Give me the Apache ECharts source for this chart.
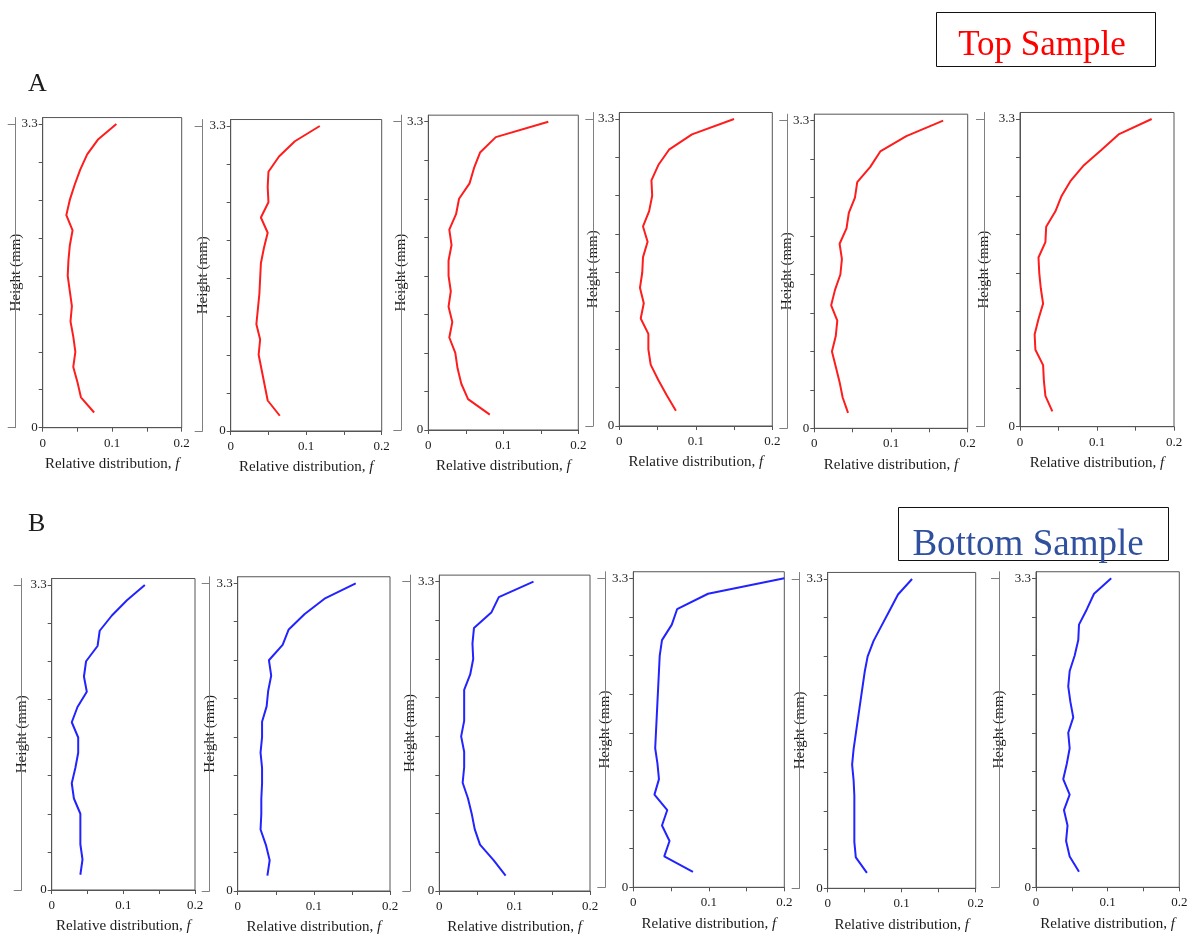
<!DOCTYPE html>
<html>
<head>
<meta charset="utf-8">
<script src="https://cdn.jsdelivr.net/npm/echarts@6/dist/echarts.min.js"></script>
<style>
  html, body { margin: 0; padding: 0; background: #fff; }
  #chart { width: 1192px; height: 936px; }
</style>
</head>
<body>
<div id="chart"></div>
<script>
// Layer heights (mm), bottom to top
const heights = [0.165, 0.33, 0.495, 0.66, 0.825, 0.99, 1.155, 1.32, 1.485, 1.65,
                 1.815, 1.98, 2.145, 2.31, 2.475, 2.64, 2.805, 2.97, 3.135, 3.3];

// Relative distribution f per layer, top sample (A)
const topA1 = [0.074, 0.055, 0.050, 0.044, 0.047, 0.044, 0.040, 0.042, 0.039, 0.036,
               0.037, 0.039, 0.043, 0.034, 0.039, 0.046, 0.054, 0.064, 0.080, 0.106];
const topA2 = [0.065, 0.049, 0.045, 0.041, 0.037, 0.039, 0.034, 0.036, 0.038, 0.039,
               0.040, 0.044, 0.049, 0.040, 0.050, 0.049, 0.050, 0.064, 0.085, 0.118];
const topA3 = [0.082, 0.053, 0.044, 0.039, 0.036, 0.028, 0.032, 0.027, 0.030, 0.027,
               0.027, 0.031, 0.028, 0.037, 0.041, 0.055, 0.061, 0.069, 0.090, 0.160];
const topA4 = [0.074, 0.062, 0.051, 0.041, 0.038, 0.038, 0.028, 0.032, 0.027, 0.030,
               0.031, 0.037, 0.031, 0.039, 0.043, 0.042, 0.051, 0.065, 0.095, 0.150];
const topA5 = [0.044, 0.037, 0.033, 0.028, 0.023, 0.028, 0.030, 0.022, 0.027, 0.034,
               0.036, 0.033, 0.042, 0.045, 0.053, 0.056, 0.073, 0.086, 0.120, 0.168];
const topA6 = [0.042, 0.033, 0.031, 0.030, 0.020, 0.019, 0.024, 0.030, 0.027, 0.025,
               0.024, 0.033, 0.034, 0.046, 0.054, 0.066, 0.083, 0.106, 0.128, 0.171];

// Relative distribution f per layer, bottom sample (B)
const botB1 = [0.040, 0.043, 0.040, 0.040, 0.040, 0.031, 0.028, 0.033, 0.037, 0.037,
               0.028, 0.036, 0.049, 0.045, 0.048, 0.064, 0.067, 0.084, 0.105, 0.130];
const botB2 = [0.039, 0.042, 0.037, 0.030, 0.031, 0.031, 0.032, 0.032, 0.030, 0.032,
               0.032, 0.038, 0.040, 0.044, 0.041, 0.059, 0.067, 0.088, 0.114, 0.155];
const botB3 = [0.088, 0.072, 0.054, 0.047, 0.043, 0.038, 0.031, 0.033, 0.033, 0.029,
               0.033, 0.033, 0.033, 0.041, 0.045, 0.044, 0.046, 0.069, 0.079, 0.125];
const botB4 = [0.079, 0.041, 0.048, 0.038, 0.045, 0.028, 0.034, 0.032, 0.029, 0.030,
               0.031, 0.032, 0.033, 0.034, 0.035, 0.038, 0.051, 0.058, 0.099, 0.200];
const botB5 = [0.053, 0.038, 0.036, 0.036, 0.036, 0.036, 0.035, 0.033, 0.035, 0.038,
               0.041, 0.044, 0.047, 0.050, 0.054, 0.062, 0.073, 0.084, 0.095, 0.114];
const botB6 = [0.060, 0.047, 0.042, 0.044, 0.039, 0.047, 0.038, 0.043, 0.047, 0.045,
               0.052, 0.048, 0.045, 0.047, 0.054, 0.059, 0.060, 0.071, 0.081, 0.105];

// Axis ticks and labels
const heightTicks = [0, 0.4125, 0.825, 1.2375, 1.65, 2.0625, 2.475, 2.8875, 3.3];
const heightLabels = [0, 3.3];
const fTicks = [0, 0.05, 0.1, 0.15, 0.2];
const fLabels = [0, 0.1, 0.2];

const panelsTop = [topA1, topA2, topA3, topA4, topA5, topA6];
const panelsBottom = [botB1, botB2, botB3, botB4, botB5, botB6];

// Frame geometry of each small plot: x of f=0, x of f=0.2, y of 3.3, y of 0, bracket offset
const frames = [
  [42.7, 181.7, 124.0, 427.7, 27], [230.7, 381.7, 126.0, 431.0, 28],
  [428.3, 578.3, 121.7, 430.0, 27], [619.3, 772.3, 119.0, 426.0, 26],
  [814.3, 967.7, 120.7, 428.3, 27], [1020.0, 1174.0, 119.0, 426.7, 36],
  [51.7, 195.0, 585.0, 890.0, 30], [237.7, 390.0, 583.3, 891.7, 28],
  [439.3, 590.0, 581.7, 891.7, 29], [633.3, 784.3, 578.3, 887.3, 28],
  [827.7, 975.7, 579.0, 888.3, 28], [1036.0, 1179.3, 578.3, 887.3, 37]
];

const Y_TOP = 3.37;     // frame extends a little above the 3.3 mark
const SERIF = '"Liberation Serif", "Times New Roman", serif';
const INK = '#1c1c1c';
const RED = '#ff1c1c';
const BLUE = '#2323ff';

const grids = [], xAxes = [], yAxes = [], series = [];
const allPanels = panelsTop.concat(panelsBottom);

allPanels.forEach((vals, i) => {
  const [x0, x2, y33, y0, off] = frames[i];
  const top = y0 - (y0 - y33) * Y_TOP / 3.3;
  grids.push({
    left: x0, top: top, width: x2 - x0, height: y0 - top,
    show: true, borderColor: '#555', borderWidth: 1, backgroundColor: 'transparent'
  });
  xAxes.push({
    type: 'value', gridIndex: i, min: 0, max: 0.2, interval: 0.05,
    axisLine: { show: true, lineStyle: { color: '#555', width: 1 } },
    axisTick: { show: true, inside: false, length: 4, customValues: fTicks,
                lineStyle: { color: '#555' } },
    axisLabel: { customValues: fLabels, margin: 9, fontFamily: SERIF, fontSize: 13,
                 color: INK, formatter: v => String(v) },
    splitLine: { show: false },
    name: 'Relative distribution, {i|f}',
    nameLocation: 'middle', nameGap: 29,
    nameTextStyle: { fontFamily: SERIF, fontSize: 15, color: INK,
                     rich: { i: { fontFamily: SERIF, fontSize: 15, fontStyle: 'italic', color: INK } } }
  });
  // plotted height axis
  yAxes.push({
    type: 'value', gridIndex: i, min: 0, max: Y_TOP, position: 'left',
    axisLine: { show: true, onZero: false, lineStyle: { color: '#555', width: 1 } },
    axisTick: { show: true, inside: false, length: 4, customValues: heightTicks,
                lineStyle: { color: '#555' } },
    axisLabel: { customValues: heightLabels, margin: 5, fontFamily: SERIF, fontSize: 13,
                 color: INK, formatter: v => String(v) },
    splitLine: { show: false }
  });
  // bracket with the "Height (mm)" caption
  yAxes.push({
    type: 'value', gridIndex: i, min: 0, max: Y_TOP, position: 'left', offset: off,
    axisLine: { show: true, onZero: false, lineStyle: { color: '#808080', width: 1 } },
    axisTick: { show: true, inside: false, length: 8, customValues: heightLabels,
                lineStyle: { color: '#808080' } },
    axisLabel: { show: false },
    splitLine: { show: false },
    name: 'Height (mm)', nameLocation: 'middle', nameRotate: 90, nameGap: 0,
    nameTextStyle: { fontFamily: SERIF, fontSize: 15, color: INK, backgroundColor: '#fff',
                     padding: [0, 8], verticalAlign: 'middle', align: 'center' }
  });
  series.push({
    type: 'line', xAxisIndex: i, yAxisIndex: 2 * i,
    data: vals.map((f, k) => [f, heights[k]]),
    showSymbol: false, symbol: 'none', silent: true,
    lineStyle: { color: i < 6 ? RED : BLUE, width: 2 },
    animation: false
  });
});

const chart = echarts.init(document.getElementById('chart'), null, { renderer: 'canvas' });
chart.setOption({
  backgroundColor: '#fff',
  animation: false,
  grid: grids, xAxis: xAxes, yAxis: yAxes, series: series,
  graphic: [
    { type: 'text', left: 28, top: 71,
      style: { text: 'A', font: '26px ' + SERIF, fill: INK } },
    { type: 'text', left: 28, top: 511,
      style: { text: 'B', font: '26px ' + SERIF, fill: INK } },
    { type: 'rect', shape: { x: 936.5, y: 12.5, width: 219, height: 54 },
      style: { fill: 'none', stroke: '#111', lineWidth: 1 } },
    { type: 'text', x: 1042, y: 63,
      style: { text: 'Top Sample', font: '35px ' + SERIF, fill: '#ff0000',
               textAlign: 'center', textVerticalAlign: 'bottom' } },
    { type: 'rect', shape: { x: 898.5, y: 507.5, width: 270, height: 53 },
      style: { fill: 'none', stroke: '#111', lineWidth: 1 } },
    { type: 'text', x: 1028, y: 564,
      style: { text: 'Bottom Sample', font: '37px ' + SERIF, fill: '#2f4f9f',
               textAlign: 'center', textVerticalAlign: 'bottom' } }
  ]
});
</script>
</body>
</html>
